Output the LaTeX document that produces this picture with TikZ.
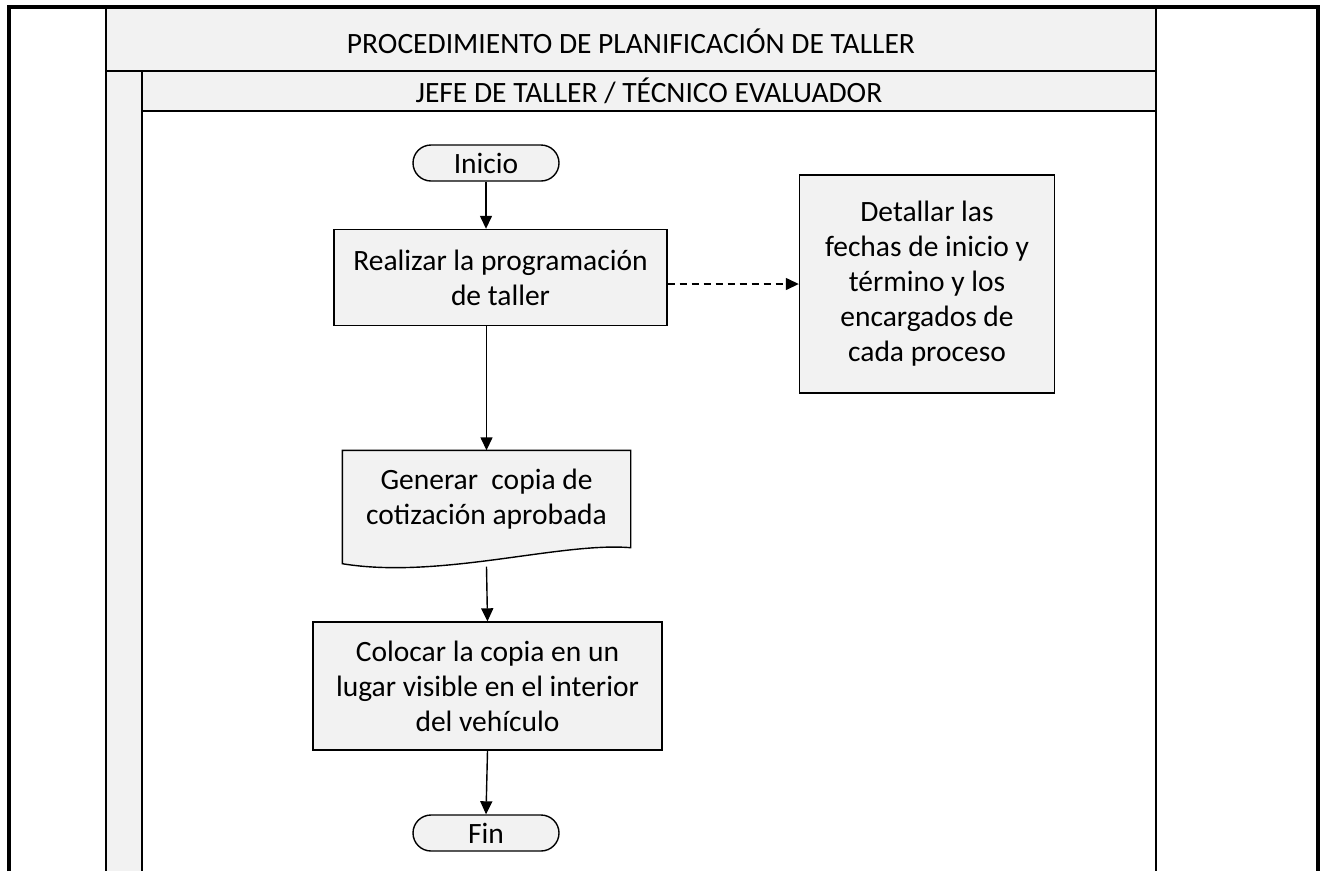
\documentclass[tikz,border=0pt]{standalone}
\usepackage{fontspec}
\setmainfont{Carlito}
\usetikzlibrary{arrows.meta, positioning, backgrounds}
\definecolor{bandgray}{HTML}{F2F2F2}

\begin{document}
\begin{tikzpicture}[
    x=1pt, y=-1pt,
    >={Triangle[length=13pt,width=12pt]},
    font=\fontsize{29.5}{35}\selectfont,
    proc/.style={rectangle, draw, fill=bandgray, line width=1.4pt, align=center, inner sep=0pt},
    term/.style={rectangle, rounded corners=18pt, draw, fill=bandgray, line width=1.4pt, minimum width=146pt, minimum height=36pt, inner sep=0pt},
    link/.style={->, line width=1.4pt}
]
\useasboundingbox (0,0) rectangle (1324,871);

% Frame and lanes
\fill[bandgray] (106,9) rectangle (1156,71);
\fill[bandgray] (106,71) rectangle (142,871);
\fill[bandgray] (142,71) rectangle (1156,111);
\draw[line width=2.2pt] (106,71) -- (1156,71);
\draw[line width=2.8pt] (142,111) -- (1156,111);
\draw[line width=2.2pt] (106,9) -- (106,871);
\draw[line width=2.2pt] (142,71) -- (142,871);
\draw[line width=2.2pt] (1156,9) -- (1156,871);
\draw[line width=4.5pt] (9,871) -- (9,7) -- (1318,7) -- (1318,871);

\node (title) at (631,41) {PROCEDIMIENTO DE PLANIFICACIÓN DE TALLER};
\node (lane) at (649,91) {JEFE DE TALLER / TÉCNICO EVALUADOR};

% Flow
\node (inicio) at (486,163) [term] {Inicio};
\node (realizar) at (500.5,277.5) [proc, minimum width=333pt, minimum height=96pt] {Realizar la programación\\de taller};
\node (detallar) at (927,284) [proc, minimum width=255pt, minimum height=218pt] {Detallar las\\fechas de inicio y\\término y los\\encargados de\\cada proceso};
\node (doc) at (486.5,499) [proc, draw=none, fill=none, minimum width=287pt, minimum height=96pt] {Generar \ copia de\\cotización aprobada};
\begin{scope}[on background layer]
\draw[line width=1.4pt, fill=bandgray] (doc.north west) -- (doc.north east) -- (doc.south east)
    .. controls +(-70,-6) and +(97,16) .. ([yshift=-16pt]doc.south west) -- cycle;
\end{scope}
\coordinate (docwave) at ([yshift=-19pt]doc.south);
\node (colocar) at (487.5,686) [proc, minimum width=349pt, minimum height=128pt] {Colocar la copia en un\\lugar visible en el interior\\del vehículo};
\node (fin) at (486,833) [term] {Fin};

\draw[link] (inicio.south) -- (inicio.south |- realizar.north);
\draw[link] (doc.north |- realizar.south) -- (doc.north);
\draw[link] (docwave) -- (colocar.north);
\draw[link] (colocar.south) -- (fin.north);
\draw[link, dash pattern=on 7pt off 5pt] (realizar.east |- detallar.west) -- (detallar.west);
\end{tikzpicture}
\end{document}
